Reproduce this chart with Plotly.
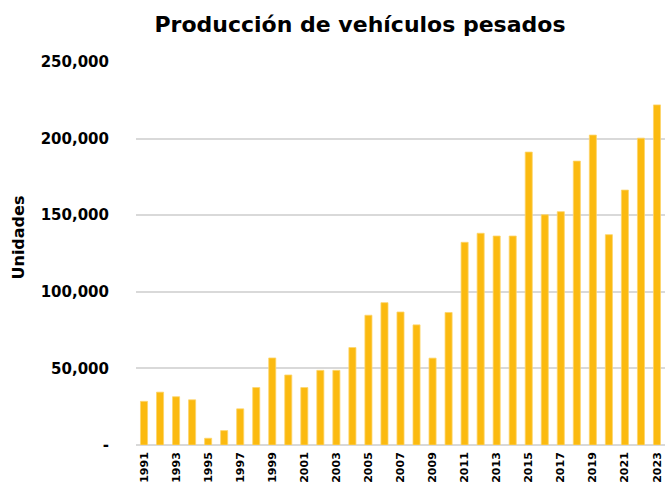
import plotly.graph_objects as go

years = [str(y) for y in range(1991, 2024)]
units = [28500, 34500, 31500, 29500, 4400, 9400, 23600, 37500, 56800, 45700,
         37500, 48700, 48700, 63600, 84700, 92900, 86800, 78400, 56700, 86500,
         132300, 138200, 136400, 136400, 191200, 150300, 152300, 185300, 202300, 137300,
         166400, 200300, 222000]
y_tickvals = [0, 50000, 100000, 150000, 200000, 250000]
y_ticktext = ["-", "50,000", "100,000", "150,000", "200,000", "250,000"]
x_tickvals = years[::2]

W, H = 665, 487
L, R, T, B = 136, 0, 62, 42
pw = W - L - R
ph = H - T - B

fig = go.Figure(go.Bar(
    x=years, y=units,
    marker=dict(color="#FBBA10", line=dict(color="#FDD46A", width=0.8)),
))

fig.update_layout(
    width=W, height=H,
    margin=dict(l=L, r=R, t=T, b=B, autoexpand=False),
    paper_bgcolor="white", plot_bgcolor="white",
    bargap=0.56,
    showlegend=False,
    title=dict(
        text="<b>Producción de vehículos pesados</b>",
        font=dict(family="DejaVu Sans", size=22, color="black"),
        x=360 / W, xanchor="center", xref="container",
        y=1 - 24 / H, yanchor="middle", yref="container",
    ),
    xaxis=dict(
        type="category",
        tickmode="array", tickvals=x_tickvals, ticktext=x_tickvals,
        tickangle=-90,
        tickfont=dict(family="DejaVu Sans", size=11, color="black", weight="bold"),
        showgrid=False, showline=False, ticks="",
        ticklabelstandoff=4, automargin=False,
    ),
    yaxis=dict(
        range=[0, 250000],
        tickmode="array", tickvals=y_tickvals, ticktext=y_ticktext,
        tickfont=dict(family="DejaVu Sans", size=15, color="black", weight="bold"),
        showgrid=True, gridcolor="#d9d9d9", gridwidth=2,
        zeroline=True, zerolinecolor="#d9d9d9", zerolinewidth=2,
        showline=False, ticks="",
        ticklabelstandoff=26, automargin=False,
    ),
    annotations=[dict(
        text="<b>Unidades</b>", textangle=-90,
        x=(18 - L) / pw, xref="paper", xanchor="center",
        y=(H - B - 237.5) / ph, yref="paper", yanchor="middle",
        showarrow=False,
        font=dict(family="DejaVu Sans", size=16, color="black"),
    )],
)

fig.write_html("out.html",
               config={"displayModeBar": False},
               post_script="document.body.style.margin='0';document.body.style.padding='0';")
